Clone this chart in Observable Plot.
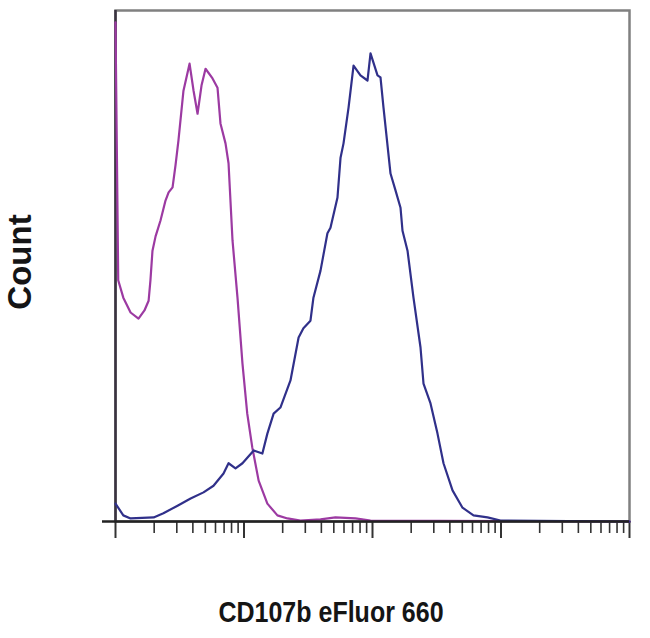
<!DOCTYPE html>
<html>
<head>
<meta charset="utf-8">
<script src="https://cdn.jsdelivr.net/npm/d3@7"></script>
<script src="https://cdn.jsdelivr.net/npm/@observablehq/plot@0.6"></script>
<style>
  html, body { margin: 0; padding: 0; background: #fff; }
  #wrap { position: relative; width: 650px; height: 638px; background: #fff; overflow: hidden; }
  #xlabel {
    position: absolute; top: 599px; left: 331px;
    font-family: "Liberation Sans", Arial, sans-serif; font-weight: bold; font-size: 25px;
    line-height: 25px; white-space: nowrap; color: #151515;
    transform: translateX(-50%) scaleY(1.2); transform-origin: center center;
  }
</style>
</head>
<body>
<div id="wrap"><div id="chart"></div><div id="xlabel"></div></div>
<script>
// Fluorescence intensity (log scale) and count (% of max) for the two histograms
const isotypeX = [10, 10.5, 11.5, 13.1, 15.1, 16.8, 18.1, 18.7, 19.4, 20.5, 22.4, 24.5, 25.9, 27.8, 29.3, 30.9, 33.8, 37.7, 40.5, 43.5, 46.7, 50.2, 56.9, 62.2, 65.6, 71.8, 75.8, 81.4, 89.0, 97.3, 106, 116, 130, 152, 182, 218, 275, 394, 515, 737, 965, 100000];
const isotypeY = [97.7, 47.2, 43.8, 40.9, 39.7, 41.3, 43.2, 47.2, 53.0, 55.8, 58.9, 62.8, 64.4, 65.4, 69.7, 74.6, 84.3, 89.6, 84.3, 79.8, 85.3, 88.6, 86.7, 84.9, 77.9, 74.0, 70.1, 55.0, 43.8, 30.9, 21.1, 14.5, 8.0, 3.5, 1.2, 0.6, 0.2, 0.4, 0.8, 0.6, 0.2, 0];

const stainedX = [10, 11.5, 13.1, 19.8, 23.6, 30.4, 38.4, 48.4, 57.9, 69.3, 75.8, 85.9, 97.3, 119, 139, 152, 170, 192, 230, 266, 290, 329, 347, 394, 446, 471, 534, 564, 595, 651, 712, 806, 914, 965, 1094, 1154, 1218, 1381, 1510, 1652, 1712, 1873, 2084, 2363, 2494, 2828, 3205, 3569, 4195, 5017, 6109, 7853, 9911, 100000];
const stainedY = [3.5, 1.2, 0.6, 0.8, 1.6, 3.1, 4.5, 5.7, 7.0, 9.4, 11.4, 10.4, 11.4, 13.9, 13.3, 17.2, 21.1, 22.3, 27.6, 36.0, 37.8, 39.3, 43.8, 49.1, 56.4, 57.5, 63.4, 71.2, 74.0, 81.0, 89.2, 87.3, 86.3, 91.6, 87.3, 86.9, 81.0, 68.1, 64.8, 61.4, 56.9, 53.0, 43.8, 34.1, 27.0, 23.1, 17.2, 11.4, 6.1, 2.7, 1.2, 0.8, 0.2, 0];

const majorTicks = [10, 100, 1000, 10000, 100000];
const minorMultipliers = [2, 3, 4, 5, 6, 7, 8, 9];
const xDomain = [10, 100000];
const yDomain = [0, 100];
const yLabel = "Count";
const xLabel = "CD107b eFluor 660";

const minorTicks = majorTicks.slice(0, -1).flatMap(d => minorMultipliers.map(m => d * m));
const isotype = isotypeX.map((x, i) => ({x, y: isotypeY[i]}));
const stained = stainedX.map((x, i) => ({x, y: stainedY[i]}));

const chart = Plot.plot({
  width: 650,
  height: 545,
  marginLeft: 115,
  marginRight: 21,
  marginTop: 10,
  marginBottom: 24,
  style: {background: "#fff", fontFamily: "'Liberation Sans', Arial, sans-serif"},
  x: {type: "log", domain: xDomain, label: null},
  y: {domain: yDomain, axis: null, label: null},
  marks: [
    Plot.frame({stroke: "#808080", strokeWidth: 2.5}),
    Plot.ruleX([xDomain[0]], {stroke: "#3a3340", strokeWidth: 2.5}),
    Plot.axisX(minorTicks, {tickSize: 12, tickFormat: () => "", stroke: "#333", strokeWidth: 1.6, label: null}),
    Plot.axisX(majorTicks, {tickSize: 17, tickFormat: () => "", stroke: "#333", strokeWidth: 2, label: null}),
    Plot.line(isotype, {x: "x", y: "y", stroke: "#9c3aa2", strokeWidth: 2.2, strokeLinejoin: "round"}),
    Plot.line(stained, {x: "x", y: "y", stroke: "#30308a", strokeWidth: 2.2, strokeLinejoin: "round"}),
    Plot.ruleY([0], {stroke: "#222", strokeWidth: 2.5, insetLeft: -13}),
    Plot.text([yLabel], {frameAnchor: "left", rotate: -90, dx: -95, dy: -4, textAnchor: "middle", fontSize: 33, fontWeight: "bold", fill: "#151515"})
  ]
});
document.getElementById("chart").appendChild(chart);
document.getElementById("xlabel").textContent = xLabel;
</script>
</body>
</html>
